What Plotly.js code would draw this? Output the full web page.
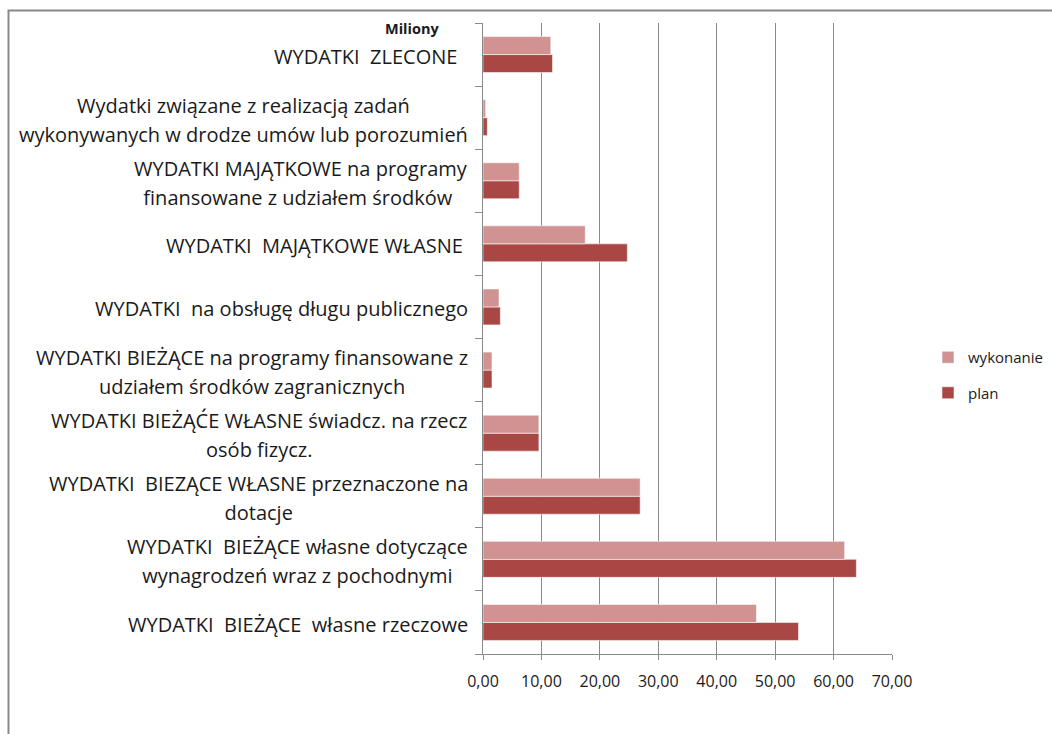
<!DOCTYPE html>
<html>
<head>
<meta charset="utf-8">
<script src="https://cdn.plot.ly/plotly-3.0.1.min.js"></script>
<style>html,body{margin:0;padding:0;background:#fff;}#chart{width:1052px;height:734px;}</style>
</head>
<body>
<div id="chart"></div>
<script>
// Categories from bottom to top
var categories = [
  "WYDATKI\u00a0 BIEŻĄCE\u00a0 własne rzeczowe",
  "WYDATKI\u00a0 BIEŻĄCE własne dotyczące<br>wynagrodzeń wraz z pochodnymi",
  "WYDATKI\u00a0 BIEZĄCE WŁASNE przeznaczone na<br>dotacje",
  "WYDATKI BIEŻĄĆE WŁASNE świadcz. na rzecz<br>osób fizycz.",
  "WYDATKI BIEŻĄCE na programy finansowane z<br>udziałem środków zagranicznych",
  "WYDATKI\u00a0 na obsługę długu publicznego",
  "WYDATKI\u00a0 MAJĄTKOWE WŁASNE\u00a0",
  "WYDATKI MAJĄTKOWE na programy<br>finansowane z udziałem środków\u00a0",
  "Wydatki związane z realizacją zadań<br>wykonywanych w drodze umów lub porozumień",
  "WYDATKI\u00a0 ZLECONE\u00a0\u00a0"
];
var catKeys = ["c0","c1","c2","c3","c4","c5","c6","c7","c8","c9"];
var wykonanie = [46.8, 61.9, 26.9, 9.57, 1.54, 2.74, 17.5, 6.2, 0.45, 11.6];
var plan      = [54.0, 63.9, 26.9, 9.57, 1.54, 2.97, 24.7, 6.2, 0.74, 11.9];
var xTicks = [0, 10, 20, 30, 40, 50, 60, 70];

var FONT = "'Open Sans', 'Noto Sans', sans-serif";

var traces = [
  {type:"bar", orientation:"h", name:"plan", x:plan, y:catKeys,
   marker:{color:"#A94745", line:{color:"rgba(255,255,255,0.55)", width:1}},
   legendgroup:"b", legendrank:2, hoverinfo:"x"},
  {type:"bar", orientation:"h", name:"wykonanie", x:wykonanie, y:catKeys,
   marker:{color:"#D19292", line:{color:"rgba(255,255,255,0.55)", width:1}},
   legendgroup:"a", legendrank:1, hoverinfo:"x"}
];

var L = 483, R = 892, T = 23, B = 654, W = 1052, H = 734;
var pw = R - L, ph = B - T;
function px(p){ return (p - L) / pw; }
function py(q){ return (B - q) / ph; }

var annotations = categories.map(function(c, i){
  var lines = c.split("<br>").map(function(s){ return '<span style="font-size:20px">' + s + '</span>'; });
  return {
    xref:"paper", yref:"y", x:px(470), y:catKeys[i],
    xanchor:"right", yanchor:"middle", align:"center",
    text: lines.join("<br>"), showarrow:false, yshift:-2,
    font:{family:FONT, size:22, color:"#1a1a1a"}
  };
});
annotations.push({
  xref:"paper", yref:"paper", x:px(441), y:py(28), xanchor:"right", yanchor:"middle",
  text:"<b>Miliony</b>", showarrow:false, font:{family:FONT, size:14.5, color:"#1a1a1a"}
});

var layout = {
  width:W, height:H,
  margin:{l:L, r:W-R, t:T, b:H-B, pad:0, autoexpand:false},
  paper_bgcolor:"#ffffff", plot_bgcolor:"#ffffff",
  separators:", ",
  barmode:"group", bargap:0.43, bargroupgap:0,
  font:{family:FONT, color:"#1a1a1a"},
  xaxis:{range:[0,70], tickvals:xTicks, tickformat:".2f",
    showgrid:true, gridcolor:"#8a8a8a", gridwidth:1,
    showline:true, linecolor:"#8a8a8a", linewidth:1,
    ticks:"outside", ticklen:5, tickcolor:"#8a8a8a",
    tickfont:{family:FONT, size:16, color:"#1a1a1a"},
    ticklabelstandoff:8, zeroline:false, fixedrange:true, automargin:false},
  yaxis:{type:"category", categoryorder:"array", categoryarray:catKeys,
    range:[-0.5, 9.5], showticklabels:false,
    showline:true, linecolor:"#8a8a8a", linewidth:1,
    ticks:"outside", ticklen:7, tickcolor:"#8a8a8a", tickson:"boundaries",
    showgrid:false, zeroline:false, fixedrange:true, automargin:false},
  showlegend:true,
  legend:{x:px(928), y:py(375), xanchor:"left", yanchor:"middle",
    traceorder:"grouped", tracegroupgap:13,
    font:{family:FONT, size:15, color:"#1a1a1a"}, bgcolor:"rgba(0,0,0,0)"},
  annotations:annotations,
  shapes:[
    {type:"rect", xref:"paper", yref:"paper",
     x0:px(8.5), x1:px(1070), y0:py(760), y1:py(10.5),
     line:{color:"#888888", width:2}, fillcolor:"rgba(0,0,0,0)", layer:"below"}
  ]
};

Plotly.newPlot("chart", traces, layout, {staticPlot:true, displayModeBar:false});
</script>
</body>
</html>
